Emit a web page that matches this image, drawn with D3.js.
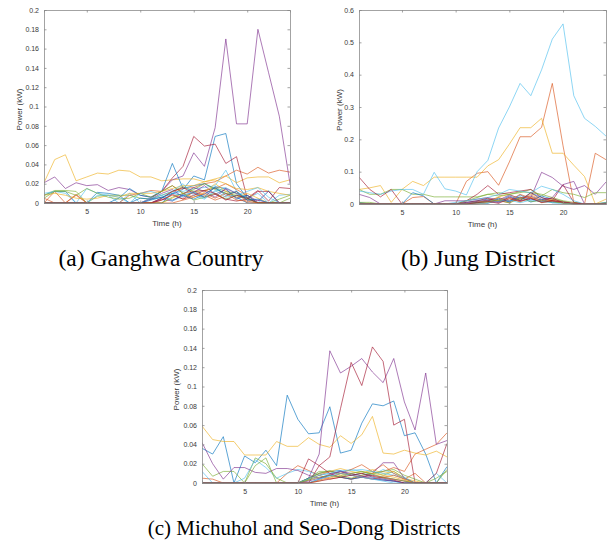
<!DOCTYPE html>
<html>
<head>
<meta charset="utf-8">
<script src="https://cdn.jsdelivr.net/npm/d3@7"></script>
<style>
  html, body { margin: 0; padding: 0; background: #fff; }
  svg { display: block; }
</style>
</head>
<body>
<svg id="fig" width="609" height="548"></svg>
<script>
// Hour of day for every sample
const hours = d3.range(1, 25);

// Tick values and labels
const xTicks = [5, 10, 15, 20];
const yTicksLow = [0, 0.02, 0.04, 0.06, 0.08, 0.1, 0.12, 0.14, 0.16, 0.18, 0.2];
const yTicksLowLabels = ["0", "0.02", "0.04", "0.06", "0.08", "0.1", "0.12", "0.14", "0.16", "0.18", "0.2"];
const yTicksHigh = [0, 0.1, 0.2, 0.3, 0.4, 0.5, 0.6];
const yTicksHighLabels = ["0", "0.1", "0.2", "0.3", "0.4", "0.5", "0.6"];

// Default line colour order
const lineColors = ["#0072BD", "#D95319", "#EDB120", "#7E2F8E", "#77AC30", "#4DBEEE", "#A2142F"];

// Hourly household power profiles (kW), Ganghwa
const ganghwaLoads = [
  [0.008,0.012,0.012,0.000,0.000,0.011,0.010,0.008,0.000,0.000,0.000,0.000,0.010,0.014,0.028,0.024,0.069,0.072,0.020,0.005,0.000,0.000,0.000,0.000],
  [0.000,0.012,0.000,0.008,0.000,0.000,0.000,0.000,0.000,0.000,0.000,0.005,0.012,0.015,0.016,0.020,0.022,0.028,0.034,0.030,0.037,0.031,0.034,0.032],
  [0.021,0.045,0.050,0.023,0.027,0.031,0.030,0.034,0.033,0.027,0.027,0.023,0.024,0.025,0.025,0.022,0.025,0.028,0.021,0.026,0.027,0.027,0.021,0.024],
  [0.021,0.027,0.015,0.021,0.018,0.019,0.013,0.016,0.014,0.008,0.006,0.012,0.024,0.028,0.052,0.038,0.078,0.170,0.082,0.082,0.180,0.135,0.090,0.020],
  [0.008,0.013,0.013,0.012,0.000,0.007,0.008,0.008,0.008,0.005,0.004,0.008,0.012,0.017,0.012,0.013,0.016,0.012,0.010,0.006,0.000,0.000,0.004,0.008],
  [0.010,0.012,0.010,0.000,0.015,0.010,0.008,0.000,0.010,0.000,0.000,0.005,0.010,0.012,0.015,0.016,0.018,0.034,0.012,0.005,0.010,0.000,0.008,0.009],
  [0.000,0.000,0.000,0.000,0.000,0.000,0.000,0.000,0.000,0.000,0.005,0.012,0.026,0.038,0.069,0.059,0.061,0.041,0.048,0.005,0.013,0.002,0.016,0.015],
  [0.000,0.000,0.000,0.000,0.000,0.000,0.000,0.005,0.015,0.008,0.006,0.012,0.041,0.015,0.018,0.020,0.015,0.010,0.006,0.000,0.000,0.000,0.000,0.000],
  [0.005,0.000,0.000,0.009,0.000,0.000,0.000,0.000,0.008,0.010,0.013,0.012,0.018,0.010,0.012,0.013,0.015,0.020,0.014,0.008,0.000,0.000,0.000,0.000],
  [0.008,0.010,0.008,0.005,0.004,0.005,0.008,0.006,0.010,0.010,0.010,0.012,0.015,0.018,0.018,0.022,0.024,0.020,0.015,0.014,0.016,0.012,0.010,0.008],
  [0.000,0.000,0.000,0.000,0.000,0.000,0.000,0.000,0.000,0.000,0.004,0.010,0.014,0.006,0.011,0.018,0.009,0.014,0.005,0.008,0.002,0.012,0.000,0.000],
  [0.005,0.012,0.012,0.008,0.015,0.010,0.006,0.004,0.005,0.010,0.006,0.012,0.018,0.010,0.014,0.020,0.014,0.010,0.008,0.005,0.000,0.000,0.000,0.005],
  [0.000,0.000,0.000,0.000,0.000,0.008,0.008,0.006,0.000,0.010,0.012,0.008,0.012,0.020,0.008,0.004,0.012,0.016,0.010,0.006,0.000,0.013,0.000,0.000],
  [0.000,0.000,0.000,0.000,0.000,0.000,0.000,0.000,0.000,0.000,0.000,0.005,0.012,0.016,0.010,0.006,0.009,0.004,0.002,0.004,0.012,0.012,0.000,0.000],
  [0.000,0.000,0.000,0.000,0.000,0.000,0.000,0.000,0.000,0.005,0.004,0.006,0.003,0.008,0.011,0.006,0.017,0.015,0.004,0.008,0.000,0.000,0.000,0.000],
  [0.000,0.000,0.000,0.000,0.000,0.000,0.000,0.000,0.000,0.000,0.000,0.003,0.008,0.004,0.012,0.008,0.003,0.007,0.012,0.000,0.000,0.000,0.000,0.000],
  [0.000,0.000,0.000,0.000,0.000,0.000,0.000,0.000,0.000,0.000,0.000,0.000,0.005,0.010,0.006,0.011,0.020,0.012,0.006,0.010,0.005,0.000,0.000,0.000],
  [0.000,0.000,0.000,0.000,0.000,0.000,0.000,0.000,0.000,0.000,0.000,0.004,0.002,0.009,0.016,0.012,0.006,0.015,0.010,0.003,0.003,0.000,0.000,0.000],
  [0.000,0.000,0.000,0.000,0.000,0.000,0.000,0.000,0.000,0.000,0.000,0.000,0.006,0.010,0.003,0.006,0.010,0.004,0.008,0.004,0.000,0.000,0.000,0.000],
  [0.000,0.000,0.000,0.000,0.000,0.000,0.000,0.000,0.000,0.000,0.005,0.008,0.002,0.007,0.012,0.005,0.013,0.006,0.008,0.012,0.016,0.006,0.000,0.000],
  [0.000,0.000,0.000,0.000,0.000,0.000,0.000,0.000,0.000,0.000,0.000,0.003,0.009,0.004,0.008,0.013,0.010,0.003,0.008,0.005,0.000,0.000,0.000,0.000],
  [0.000,0.000,0.000,0.000,0.000,0.000,0.000,0.000,0.000,0.000,0.003,0.006,0.010,0.008,0.004,0.009,0.016,0.008,0.012,0.003,0.004,0.000,0.000,0.000],
  [0.000,0.000,0.000,0.000,0.000,0.000,0.000,0.000,0.000,0.000,0.000,0.000,0.000,0.003,0.006,0.010,0.005,0.010,0.003,0.002,0.000,0.000,0.000,0.000]
];

// Hourly household power profiles (kW), Jung
const jungLoads = [
  [0.005,0.000,0.000,0.000,0.000,0.000,0.000,0.000,0.000,0.000,0.005,0.010,0.015,0.008,0.025,0.012,0.035,0.020,0.010,0.005,0.000,0.000,0.000,0.005],
  [0.000,0.000,0.000,0.000,0.000,0.020,0.023,0.000,0.000,0.000,0.070,0.095,0.100,0.058,0.130,0.208,0.208,0.237,0.373,0.180,0.005,0.000,0.157,0.137],
  [0.045,0.050,0.057,0.005,0.045,0.070,0.057,0.083,0.083,0.083,0.083,0.083,0.118,0.137,0.185,0.236,0.236,0.265,0.157,0.157,0.120,0.085,0.000,0.015],
  [0.030,0.020,0.000,0.000,0.000,0.000,0.000,0.000,0.000,0.000,0.000,0.000,0.005,0.008,0.010,0.015,0.020,0.098,0.082,0.055,0.045,0.057,0.030,0.068],
  [0.045,0.030,0.030,0.045,0.045,0.030,0.030,0.022,0.022,0.022,0.022,0.022,0.030,0.035,0.030,0.035,0.045,0.025,0.045,0.035,0.030,0.020,0.035,0.035],
  [0.040,0.035,0.030,0.040,0.045,0.045,0.030,0.098,0.047,0.040,0.028,0.100,0.135,0.235,0.300,0.373,0.335,0.415,0.510,0.557,0.335,0.265,0.240,0.210],
  [0.083,0.045,0.022,0.045,0.000,0.000,0.000,0.000,0.000,0.000,0.010,0.030,0.057,0.030,0.035,0.040,0.045,0.020,0.010,0.060,0.005,0.000,0.000,0.000],
  [0.000,0.000,0.000,0.000,0.000,0.035,0.025,0.000,0.000,0.000,0.000,0.005,0.010,0.018,0.006,0.028,0.012,0.025,0.015,0.008,0.000,0.000,0.000,0.000],
  [0.000,0.000,0.000,0.000,0.000,0.000,0.000,0.000,0.000,0.000,0.000,0.005,0.012,0.020,0.010,0.030,0.018,0.006,0.012,0.005,0.000,0.000,0.000,0.000],
  [0.000,0.000,0.000,0.000,0.000,0.000,0.000,0.000,0.000,0.000,0.000,0.008,0.004,0.022,0.030,0.014,0.030,0.010,0.015,0.008,0.000,0.000,0.000,0.000],
  [0.000,0.000,0.000,0.000,0.000,0.000,0.000,0.000,0.010,0.010,0.010,0.015,0.020,0.012,0.028,0.018,0.025,0.010,0.020,0.060,0.070,0.000,0.000,0.000],
  [0.005,0.005,0.000,0.000,0.000,0.000,0.000,0.000,0.000,0.000,0.010,0.020,0.030,0.025,0.030,0.038,0.035,0.030,0.020,0.010,0.005,0.000,0.000,0.000],
  [0.000,0.000,0.000,0.000,0.000,0.000,0.000,0.000,0.000,0.005,0.010,0.015,0.020,0.030,0.045,0.040,0.035,0.055,0.045,0.030,0.010,0.000,0.000,0.000],
  [0.000,0.000,0.000,0.000,0.000,0.000,0.000,0.000,0.000,0.000,0.005,0.010,0.018,0.006,0.020,0.010,0.035,0.014,0.018,0.004,0.000,0.000,0.000,0.000],
  [0.000,0.000,0.000,0.000,0.000,0.000,0.000,0.000,0.000,0.000,0.000,0.005,0.002,0.015,0.008,0.022,0.006,0.015,0.004,0.005,0.000,0.000,0.000,0.000],
  [0.000,0.000,0.000,0.000,0.000,0.000,0.000,0.000,0.000,0.000,0.000,0.000,0.005,0.010,0.004,0.020,0.022,0.008,0.012,0.002,0.000,0.000,0.000,0.000],
  [0.000,0.000,0.000,0.000,0.000,0.000,0.000,0.000,0.000,0.000,0.000,0.000,0.005,0.012,0.018,0.006,0.020,0.004,0.008,0.004,0.000,0.000,0.000,0.000],
  [0.000,0.000,0.000,0.000,0.000,0.000,0.000,0.000,0.000,0.000,0.003,0.008,0.012,0.004,0.022,0.010,0.016,0.006,0.008,0.004,0.000,0.000,0.000,0.000],
  [0.000,0.000,0.000,0.000,0.000,0.000,0.000,0.000,0.000,0.000,0.000,0.004,0.008,0.012,0.003,0.018,0.008,0.010,0.006,0.003,0.000,0.000,0.000,0.004],
  [0.000,0.000,0.000,0.000,0.000,0.000,0.000,0.000,0.000,0.000,0.000,0.000,0.004,0.008,0.012,0.004,0.012,0.008,0.004,0.000,0.000,0.000,0.000,0.000],
  [0.000,0.000,0.000,0.000,0.000,0.000,0.000,0.000,0.000,0.000,0.000,0.004,0.008,0.002,0.016,0.008,0.018,0.005,0.010,0.006,0.003,0.000,0.000,0.000]
];

// Hourly household power profiles (kW), Michuhol and Seo-Dong
const michuholLoads = [
  [0.036,0.030,0.048,0.000,0.028,0.021,0.034,0.018,0.091,0.066,0.051,0.052,0.079,0.031,0.034,0.062,0.082,0.080,0.085,0.049,0.052,0.030,0.000,0.017],
  [0.005,0.004,0.000,0.000,0.000,0.000,0.000,0.000,0.010,0.018,0.013,0.008,0.004,0.006,0.004,0.008,0.010,0.012,0.016,0.012,0.030,0.035,0.040,0.052],
  [0.059,0.045,0.043,0.043,0.029,0.029,0.029,0.043,0.038,0.038,0.047,0.040,0.037,0.049,0.041,0.050,0.069,0.031,0.030,0.034,0.031,0.029,0.033,0.027],
  [0.000,0.000,0.000,0.000,0.000,0.000,0.000,0.000,0.000,0.000,0.005,0.030,0.137,0.114,0.121,0.129,0.115,0.104,0.129,0.084,0.055,0.114,0.040,0.044],
  [0.020,0.007,0.012,0.012,0.000,0.026,0.020,0.005,0.000,0.000,0.005,0.012,0.012,0.010,0.008,0.010,0.012,0.008,0.012,0.005,0.000,0.000,0.005,0.012],
  [0.012,0.000,0.000,0.000,0.005,0.024,0.016,0.005,0.010,0.014,0.012,0.008,0.010,0.012,0.014,0.012,0.008,0.014,0.010,0.006,0.000,0.000,0.010,0.000],
  [0.000,0.000,0.000,0.000,0.000,0.000,0.000,0.000,0.000,0.000,0.000,0.018,0.027,0.077,0.125,0.101,0.141,0.126,0.060,0.066,0.000,0.000,0.010,0.041],
  [0.000,0.000,0.000,0.000,0.000,0.000,0.000,0.000,0.000,0.000,0.005,0.010,0.012,0.013,0.008,0.010,0.006,0.004,0.002,0.000,0.000,0.000,0.000,0.000],
  [0.000,0.000,0.000,0.000,0.000,0.000,0.000,0.000,0.000,0.000,0.003,0.008,0.012,0.010,0.014,0.019,0.012,0.019,0.010,0.004,0.010,0.000,0.000,0.000],
  [0.000,0.000,0.000,0.000,0.000,0.000,0.000,0.000,0.000,0.000,0.004,0.010,0.012,0.015,0.012,0.010,0.014,0.010,0.012,0.005,0.002,0.000,0.000,0.000],
  [0.042,0.020,0.004,0.016,0.016,0.011,0.010,0.015,0.015,0.013,0.008,0.005,0.008,0.012,0.008,0.006,0.010,0.021,0.021,0.005,0.000,0.000,0.000,0.000],
  [0.000,0.000,0.000,0.000,0.000,0.018,0.026,0.000,0.000,0.000,0.004,0.010,0.013,0.008,0.005,0.008,0.010,0.012,0.014,0.008,0.004,0.000,0.000,0.014],
  [0.000,0.000,0.000,0.000,0.000,0.000,0.000,0.000,0.000,0.000,0.004,0.008,0.010,0.012,0.013,0.014,0.012,0.010,0.008,0.005,0.000,0.000,0.000,0.000],
  [0.000,0.000,0.000,0.000,0.000,0.000,0.000,0.000,0.000,0.000,0.025,0.018,0.010,0.006,0.004,0.006,0.008,0.006,0.004,0.002,0.000,0.000,0.000,0.000],
  [0.000,0.000,0.000,0.000,0.000,0.000,0.000,0.000,0.000,0.000,0.000,0.004,0.008,0.006,0.004,0.006,0.004,0.003,0.002,0.000,0.000,0.000,0.000,0.000],
  [0.000,0.000,0.000,0.000,0.000,0.000,0.000,0.000,0.000,0.000,0.000,0.003,0.006,0.010,0.008,0.006,0.004,0.006,0.008,0.004,0.000,0.000,0.000,0.000],
  [0.000,0.000,0.000,0.000,0.000,0.000,0.000,0.000,0.000,0.000,0.000,0.002,0.005,0.008,0.010,0.012,0.010,0.008,0.006,0.003,0.000,0.000,0.000,0.000],
  [0.000,0.000,0.000,0.000,0.000,0.000,0.000,0.000,0.000,0.000,0.002,0.005,0.009,0.012,0.010,0.007,0.005,0.003,0.002,0.000,0.000,0.000,0.000,0.000],
  [0.000,0.000,0.000,0.000,0.000,0.000,0.000,0.000,0.000,0.000,0.003,0.006,0.008,0.006,0.010,0.012,0.009,0.006,0.004,0.002,0.000,0.000,0.000,0.000],
  [0.000,0.000,0.000,0.000,0.000,0.000,0.000,0.000,0.000,0.000,0.000,0.004,0.007,0.010,0.008,0.006,0.004,0.002,0.000,0.000,0.000,0.000,0.000,0.000],
  [0.000,0.000,0.000,0.000,0.000,0.000,0.000,0.000,0.000,0.000,0.000,0.002,0.004,0.006,0.008,0.010,0.007,0.005,0.003,0.000,0.000,0.000,0.000,0.000]
];

const svg = d3.select("#fig");
const axisColor = "#8c8c8c";
const textColor = "#3a3a3a";

function drawPanel(cfg) {
  const x = d3.scaleLinear().domain([1, 24]).range([cfg.left, cfg.right]);
  const y = d3.scaleLinear().domain([0, cfg.yMax]).range([cfg.bottom, cfg.top]);
  const g = svg.append("g");

  // Series lines
  const clipId = "clip-" + cfg.id;
  svg.append("clipPath").attr("id", clipId)
    .append("rect")
    .attr("x", cfg.left).attr("y", cfg.top - 1)
    .attr("width", cfg.right - cfg.left).attr("height", cfg.bottom - cfg.top + 1.5);

  const line = d3.line().x((d, i) => x(hours[i])).y(d => y(d));
  g.append("g").attr("clip-path", `url(#${clipId})`)
    .selectAll("path")
    .data(cfg.series)
    .join("path")
    .attr("d", d => line(d))
    .attr("fill", "none")
    .attr("stroke", (d, i) => lineColors[i % lineColors.length])
    .attr("stroke-width", 0.8)
    .attr("stroke-opacity", 0.8)
    .attr("stroke-linejoin", "round");

  // Axes (ticks drawn inward, box on)
  const tickLen = 2.5;
  const bottomAxis = d3.axisBottom(x).tickValues(xTicks).tickSize(-tickLen).tickPadding(6).tickFormat(d3.format("d"));
  const topAxis = d3.axisTop(x).tickValues(xTicks).tickSize(-tickLen).tickFormat("");
  const leftAxis = d3.axisLeft(y).tickValues(cfg.yTicks).tickSize(-tickLen).tickPadding(5)
    .tickFormat((d, i) => cfg.yLabels[i]);
  const rightAxis = d3.axisRight(y).tickValues(cfg.yTicks).tickSize(-tickLen).tickFormat("");

  const axes = [
    [bottomAxis, `translate(0,${cfg.bottom})`],
    [topAxis, `translate(0,${cfg.top})`],
    [leftAxis, `translate(${cfg.left},0)`],
    [rightAxis, `translate(${cfg.right},0)`]
  ];
  axes.forEach(([ax, tr]) => {
    const a = g.append("g").attr("transform", tr).call(ax);
    a.select(".domain").attr("stroke", axisColor).attr("stroke-width", 0.8);
    a.selectAll(".tick line").attr("stroke", axisColor).attr("stroke-width", 0.8);
    a.selectAll(".tick text")
      .attr("fill", textColor)
      .style("font-family", "'Liberation Sans', Arial, sans-serif")
      .style("font-size", "7px");
  });

  // Axis titles
  g.append("text")
    .attr("x", (cfg.left + cfg.right) / 2)
    .attr("y", cfg.bottom + 23)
    .attr("text-anchor", "middle")
    .attr("fill", textColor)
    .style("font-family", "'Liberation Sans', Arial, sans-serif")
    .style("font-size", "8px")
    .text("Time (h)");

  g.append("text")
    .attr("transform", `translate(${cfg.yTitleX},${(cfg.top + cfg.bottom) / 2 + 3}) rotate(-90)`)
    .attr("text-anchor", "middle")
    .attr("fill", textColor)
    .style("font-family", "'Liberation Sans', Arial, sans-serif")
    .style("font-size", "8px")
    .text("Power (kW)");

  // Sub-figure caption
  svg.append("text")
    .attr("x", cfg.captionX)
    .attr("y", cfg.captionY)
    .attr("text-anchor", "middle")
    .attr("fill", "#000")
    .style("font-family", "'Liberation Serif', 'Times New Roman', serif")
    .style("font-size", cfg.captionSize + "px")
    .text(cfg.caption);
}

drawPanel({
  id: "a", left: 44, right: 290, top: 10, bottom: 203, yMax: 0.2,
  yTicks: yTicksLow, yLabels: yTicksLowLabels, yTitleX: 22,
  series: ganghwaLoads, caption: "(a) Ganghwa Country", captionX: 161, captionY: 266, captionSize: 23.5
});
drawPanel({
  id: "b", left: 359, right: 606, top: 10, bottom: 204, yMax: 0.6,
  yTicks: yTicksHigh, yLabels: yTicksHighLabels, yTitleX: 342,
  series: jungLoads, caption: "(b) Jung District", captionX: 478, captionY: 266, captionSize: 23.5
});
drawPanel({
  id: "c", left: 202, right: 447, top: 290, bottom: 483, yMax: 0.2,
  yTicks: yTicksLow, yLabels: yTicksLowLabels, yTitleX: 179,
  series: michuholLoads, caption: "(c) Michuhol and Seo-Dong Districts", captionX: 304, captionY: 535, captionSize: 21
});
</script>
</body>
</html>
